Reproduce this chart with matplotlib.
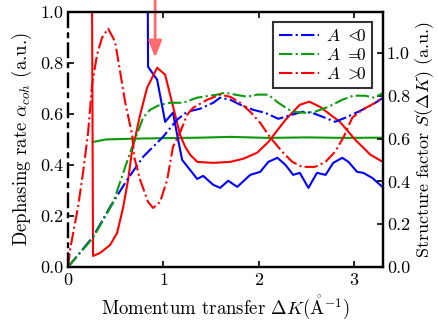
import numpy as np
import matplotlib
matplotlib.use("Agg")
import matplotlib.pyplot as plt

plt.rcParams['font.family'] = ['cmr10', 'DejaVu Serif']
plt.rcParams['mathtext.fontset'] = 'cm'
plt.rcParams['axes.formatter.use_mathtext'] = True

# dephasing rate (left axis), solid lines
red_x = [0.25, 0.25, 0.262, 0.336, 0.441, 0.514, 0.577, 0.63, 0.672, 0.703, 0.756, 0.829, 0.934,
         1.018, 1.07, 1.175, 1.228, 1.28, 1.354, 1.52, 1.70, 1.836, 1.983, 2.10, 2.28, 2.43,
         2.53, 2.64, 2.85, 3.01, 3.17, 3.30]
red_y = [1.5, 1.2, 0.043, 0.055, 0.086, 0.133, 0.232, 0.342, 0.459, 0.506, 0.597, 0.703, 0.781,
         0.754, 0.675, 0.518, 0.471, 0.44, 0.412, 0.408, 0.412, 0.424, 0.448, 0.49, 0.577, 0.636,
         0.648, 0.628, 0.569, 0.499, 0.44, 0.412]

blue_x = [0.83, 0.839, 0.934, 1.018, 1.10, 1.154, 1.196, 1.354, 1.417, 1.522, 1.595, 1.679,
          1.774, 1.91, 2.015, 2.10, 2.195, 2.28, 2.36, 2.43, 2.52, 2.61, 2.70, 2.78, 2.875,
          2.94, 3.03, 3.095, 3.19, 3.295]
blue_y = [1.5, 0.785, 0.734, 0.569, 0.605, 0.499, 0.42, 0.345, 0.357, 0.322, 0.31, 0.338,
          0.314, 0.361, 0.373, 0.412, 0.428, 0.40, 0.361, 0.369, 0.31, 0.369, 0.361, 0.408,
          0.428, 0.412, 0.373, 0.369, 0.349, 0.314]

green_x = [0.26, 0.4, 0.7, 1.0, 1.4, 1.7, 2.1, 2.5, 2.9, 3.3]
green_y = [0.49, 0.50, 0.503, 0.505, 0.507, 0.51, 0.506, 0.508, 0.506, 0.507]

# structure factor (right axis), dash-dot lines
sr_x = [0, 0.021, 0.105, 0.157, 0.21, 0.252, 0.304, 0.357, 0.42, 0.493, 0.546, 0.598, 0.672,
        0.693, 0.756, 0.839, 0.892, 0.965, 1.039, 1.10, 1.175, 1.249, 1.312, 1.459, 1.595,
        1.70, 1.805, 1.91, 2.015, 2.10, 2.14, 2.245, 2.35, 2.455, 2.59, 2.70, 2.80, 2.885,
        2.98, 3.085, 3.22, 3.295]
sr_y = [0, 0.08, 0.281, 0.44, 0.628, 0.852, 0.993, 1.073, 1.115, 1.054, 0.913, 0.773, 0.618,
        0.515, 0.407, 0.304, 0.276, 0.304, 0.407, 0.562, 0.63, 0.712, 0.745, 0.782, 0.806,
        0.796, 0.768, 0.726, 0.674, 0.618, 0.595, 0.539, 0.492, 0.468, 0.468, 0.492, 0.539,
        0.604, 0.698, 0.735, 0.768, 0.792]

sb_x = [0, 0.262, 0.441, 0.619, 0.787, 0.997, 1.144, 1.249, 1.385, 1.522, 1.595, 1.70, 1.805,
        1.941, 2.067, 2.204, 2.35, 2.455, 2.56, 2.665, 2.80, 2.907, 3.043, 3.19, 3.305]
sb_y = [0, 0.141, 0.281, 0.407, 0.515, 0.609, 0.689, 0.726, 0.74, 0.768, 0.792, 0.782, 0.759,
        0.735, 0.721, 0.693, 0.712, 0.726, 0.721, 0.703, 0.679, 0.698, 0.726, 0.759, 0.792]

sg_x = [0, 0.262, 0.472, 0.65, 0.787, 0.86, 0.965, 1.07, 1.207, 1.354, 1.563, 1.647, 1.752,
        1.878, 1.983, 2.10, 2.204, 2.35, 2.487, 2.59, 2.728, 2.875, 2.99, 3.116, 3.20, 3.274, 3.305]
sg_y = [0, 0.136, 0.30, 0.534, 0.698, 0.735, 0.759, 0.768, 0.768, 0.792, 0.806, 0.815, 0.806,
        0.796, 0.806, 0.806, 0.768, 0.726, 0.721, 0.726, 0.749, 0.782, 0.801, 0.801, 0.792,
        0.806, 0.815]

labels = [r'$A$ $<\!\!\!0$', r'$A$ $=\!\!\!0$', r'$A$ $>\!\!\!0$']
green = '#0a9a0a'

fig = plt.figure(figsize=(4.39, 3.22), dpi=100)
ax = fig.add_axes([0.155, 0.171, 0.717, 0.792])
ax2 = ax.twinx()

ax.plot(green_x, green_y, '-', color=green, lw=1.5)
ax.plot(blue_x, blue_y, '-', color='b', lw=1.5)
ax.plot(red_x, red_y, '-', color='r', lw=1.5)

ax2.plot(sb_x, sb_y, '-.', color='b', lw=1.5, label=labels[0])
ax2.plot(sg_x, sg_y, '-.', color=green, lw=1.5, label=labels[1])
ax2.plot(sr_x, sr_y, '-.', color='r', lw=1.5, label=labels[2])

ax.set_xlim(0, 3.3)
ax.set_ylim(0, 1.0)
ax2.set_ylim(0, 1.193)
ax.set_xticks([0, 1, 2, 3])
ax.set_yticks([0, 0.2, 0.4, 0.6, 0.8, 1.0])
ax2.set_yticks([0, 0.2, 0.4, 0.6, 0.8, 1.0])
ax.yaxis.set_major_formatter(matplotlib.ticker.FormatStrFormatter('%.1f'))
ax2.yaxis.set_major_formatter(matplotlib.ticker.FormatStrFormatter('%.1f'))

ax.tick_params(direction='in', top=True, labelsize=13, width=1.2, length=4)
ax2.tick_params(direction='in', labelsize=13, width=1.2, length=4, pad=3)
for a in (ax, ax2):
    for s in a.spines.values():
        s.set_linewidth(1.6)
ax2.spines['left'].set_linestyle((0, (6, 3, 1.5, 3)))
ax.spines['left'].set_linestyle((0, (6, 3, 1.5, 3)))

ax.set_xlabel(r'Momentum transfer $\Delta K(\mathring{\mathrm{A}}^{-1})$', fontsize=13.5)
ax.set_ylabel(r'Dephasing rate $\alpha_{coh}$ (a.u.)', fontsize=13.5)
ax2.set_ylabel(r'Structure factor $S(\Delta K)$ (a.u.)', fontsize=13, labelpad=2)

ax.annotate('', xy=(0.913, 0.81), xytext=(0.913, 1.06),
            arrowprops=dict(arrowstyle='-|>,head_width=0.4,head_length=1.0',
                            color='#ff6b6b', lw=2), annotation_clip=False)

leg = ax2.legend(loc='upper right', fontsize=12.5, fancybox=False, edgecolor='k',
                 handlelength=2.3, borderaxespad=0.6, labelspacing=0.15, handletextpad=0.4,
                 borderpad=0.35)
leg.get_frame().set_linewidth(1.5)

fig.savefig('out.png', dpi=100)
